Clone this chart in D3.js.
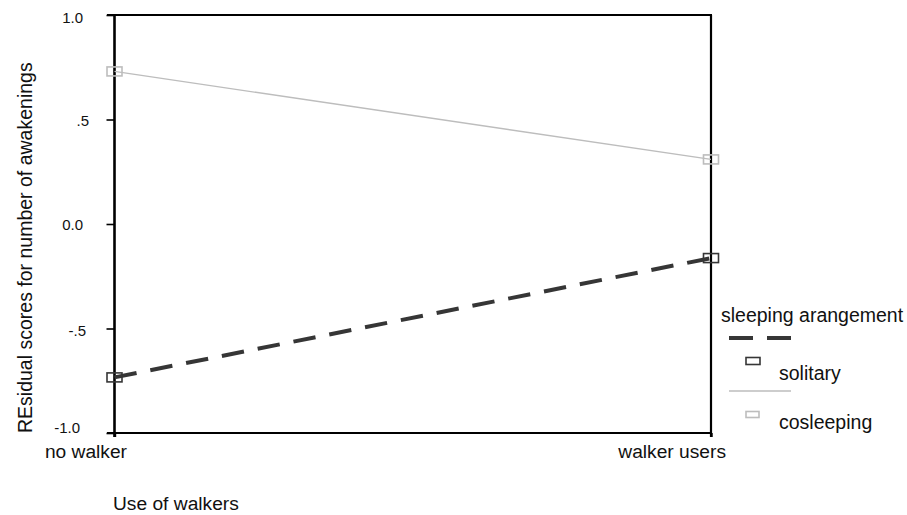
<!DOCTYPE html>
<html><head><meta charset="utf-8">
<script src="https://cdn.jsdelivr.net/npm/d3@7"></script>
<style>body{margin:0;background:#fff}svg{display:block}text{font-family:"Liberation Sans",Arial,sans-serif;fill:#111}</style>
</head><body>
<svg id="c" width="907" height="515"></svg>
<script>
const categories = ["no walker", "walker users"];
const solitary = [-0.734, -0.163];
const cosleeping = [0.730, 0.309];
const yTicks = [1.0, 0.5, 0.0, -0.5, -1.0];
const yTickLabels = ["1.0", ".5", "0.0", "-.5", "-1.0"];

const FONT = "Liberation Sans, Arial, sans-serif";
const svg = d3.select("#c");
const L = 114.5, R = 711, T = 15, B = 433;
const x = d3.scalePoint().domain(categories).range([L, R]);
const y = d3.scaleLinear().domain([-1, 1]).range([B, T]);

// styling offsets for tick labels (positions only)
const tickEndX = [83, 89, 83, 86, 80];
const tickDy = [2.5, 1, 0.5, 1.5, -6];

// frame: top border
svg.append("line").attr("x1", 107).attr("x2", R + 1).attr("y1", T).attr("y2", T).attr("stroke", "#000").attr("stroke-width", 2);

// y axis
const yAx = svg.append("g").attr("transform", `translate(${L},0)`)
  .call(d3.axisLeft(y).tickValues(yTicks).tickSize(8).tickFormat((d, i) => yTickLabels[i]));
yAx.select(".domain").attr("stroke", "#000").attr("stroke-width", 2.6).attr("d", `M0,${T}V${B + 4}`);
yAx.selectAll(".tick line").attr("stroke", "#000").attr("stroke-width", 1.6);
yAx.selectAll(".tick text")
  .attr("x", (d, i) => tickEndX[i] - L)
  .attr("y", (d, i) => tickDy[i])
  .attr("dy", "0.36em")
  .attr("font-size", 15).attr("font-family", FONT).attr("fill", "#111");

// x axis
const xAx = svg.append("g").attr("transform", `translate(0,${B})`)
  .call(d3.axisBottom(x).tickSize(4).tickFormat(""));
xAx.select(".domain").attr("stroke", "#000").attr("stroke-width", 2).attr("d", `M107,0H${R + 1}`);
xAx.selectAll(".tick line").attr("stroke", "#000").attr("stroke-width", 2.4);

// right border
svg.append("line").attr("x1", R).attr("x2", R).attr("y1", T).attr("y2", B + 4).attr("stroke", "#000").attr("stroke-width", 2.2);

svg.selectAll(".xlab").data(categories).enter().append("text")
  .attr("x", (d, i) => x(d) + (i === 0 ? 12.5 : 15)).attr("y", 458).attr("text-anchor", "end")
  .attr("font-size", 19.2).text(d => d);

// axis titles
svg.append("text").attr("transform", `translate(32,433) rotate(-90)`)
  .attr("text-anchor", "start").attr("font-size", 19.5).text("REsidual scores for number of awakenings");
svg.append("text").attr("x", 113).attr("y", 510).attr("font-size", 19.2).text("Use of walkers");

// lines
const line = d3.line().x((d, i) => x(categories[i])).y(d => y(d));
svg.append("path").datum(cosleeping).attr("d", line).attr("fill", "none").attr("stroke", "#bdbdbd").attr("stroke-width", 1.3);
svg.append("path").datum(solitary).attr("d", line).attr("fill", "none").attr("stroke", "#363636").attr("stroke-width", 4).attr("stroke-dasharray", "22.5,14");

// markers
function markers(data, col) {
  svg.selectAll(null).data(data).enter().append("rect")
    .attr("x", (d, i) => x(categories[i]) - 7.5).attr("y", d => y(d) - 4.5)
    .attr("width", 15).attr("height", 9).attr("fill", "none").attr("stroke", col).attr("stroke-width", 1.6);
}
markers(cosleeping, "#bdbdbd");
markers(solitary, "#363636");

// legend
svg.append("text").attr("x", 721).attr("y", 322).attr("font-size", 19.5).text("sleeping arangement");
svg.append("line").attr("x1", 729).attr("x2", 791).attr("y1", 338).attr("y2", 338).attr("stroke", "#363636").attr("stroke-width", 4).attr("stroke-dasharray", "24,14");
svg.append("rect").attr("x", 746).attr("y", 357.5).attr("width", 14).attr("height", 7).attr("fill", "none").attr("stroke", "#363636").attr("stroke-width", 1.6);
svg.append("text").attr("x", 779).attr("y", 380).attr("font-size", 19.5).text("solitary");
svg.append("line").attr("x1", 729).attr("x2", 791).attr("y1", 391).attr("y2", 391).attr("stroke", "#bdbdbd").attr("stroke-width", 1.3);
svg.append("rect").attr("x", 746).attr("y", 411.5).attr("width", 13).attr("height", 6).attr("fill", "none").attr("stroke", "#bdbdbd").attr("stroke-width", 1.6);
svg.append("text").attr("x", 779).attr("y", 429).attr("font-size", 19.5).text("cosleeping");
</script>
</body></html>
